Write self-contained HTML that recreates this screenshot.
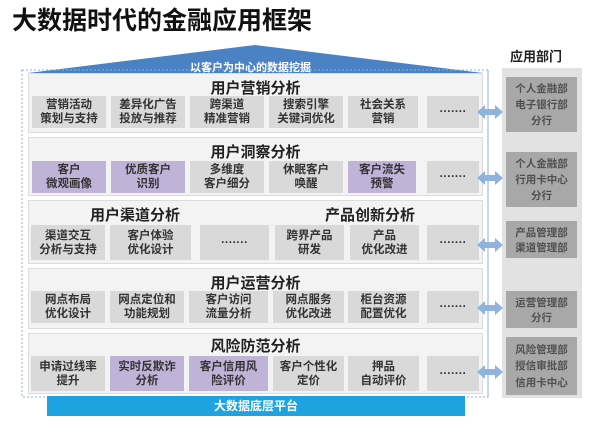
<!DOCTYPE html>
<html><head><meta charset="utf-8"><style>
*{margin:0;padding:0;box-sizing:border-box}
body{width:600px;height:424px;background:#fff;position:relative;overflow:hidden;font-family:"Liberation Sans","Noto Sans CJK SC",sans-serif;font-weight:bold}
.a{position:absolute}
.sec{position:absolute;left:28px;width:455px;background:#f3f3f3;border:1px solid #dcdcdc}
.t{position:absolute;font-size:15px;color:#222;text-align:center;white-space:nowrap}
.b{position:absolute;background:#d9d9d9;color:#333;font-size:11.5px;line-height:14px;text-align:center;display:flex;align-items:center;justify-content:center;flex-direction:column}
.p{background:#bfb3d8}
.d{position:absolute;left:506px;width:71px;background:#a8a8a8;color:#505050;font-size:10.5px;text-align:center;display:flex;flex-direction:column;justify-content:space-around;padding:4px 0}
</style></head><body>
<div class="a" style="left:12px;top:1px;font-size:25px;color:#111">大数据时代的金融应用框架</div>
<div class="a" style="left:510px;top:46px;font-size:13px;color:#222">应用部门</div>
<svg class="a" style="left:0;top:0" width="600" height="424">
<polygon points="28,73 255,45 483,73" fill="#4a82c4"/>
<rect x="22" y="70" width="466" height="327" fill="none" stroke="#8fb0d8" stroke-dasharray="2,2"/>
<rect x="502" y="68" width="80" height="330" fill="#e2e2e2"/>
</svg>
<div class="a" style="left:190px;top:59px;font-size:11px;color:#fff">以客户为中心的数据挖掘</div>

<div class="sec" style="top:73px;height:60px"></div>
<div class="t" style="left:28px;width:455px;top:77px">用户营销分析</div>
<div class="b" style="left:32px;top:96px;width:74px;height:32px">营销活动<br>策划与支持</div>
<div class="b" style="left:111px;top:96px;width:74px;height:32px">差异化广告<br>投放与推荐</div>
<div class="b" style="left:190px;top:96px;width:74px;height:32px">跨渠道<br>精准营销</div>
<div class="b" style="left:269px;top:96px;width:74px;height:32px">搜索引擎<br>关键词优化</div>
<div class="b" style="left:348px;top:96px;width:70px;height:32px">社会关系<br>营销</div>
<div class="b" style="left:427px;top:96px;width:52px;height:32px">·······</div>

<div class="sec" style="top:137px;height:59px"></div>
<div class="t" style="left:28px;width:455px;top:141px">用户洞察分析</div>
<div class="b p" style="left:32px;top:161px;width:74px;height:32px">客户<br>微观画像</div>
<div class="b p" style="left:111px;top:161px;width:74px;height:32px">优质客户<br>识别</div>
<div class="b" style="left:190px;top:161px;width:74px;height:32px">多维度<br>客户细分</div>
<div class="b" style="left:269px;top:161px;width:74px;height:32px">休眠客户<br>唤醒</div>
<div class="b p" style="left:348px;top:161px;width:68px;height:32px">客户流失<br>预警</div>
<div class="b" style="left:427px;top:161px;width:52px;height:32px">·······</div>

<div class="sec" style="top:200px;height:64px"></div>
<div class="t" style="left:60px;width:150px;top:204px">用户渠道分析</div>
<div class="t" style="left:295px;width:150px;top:204px">产品创新分析</div>
<div class="b" style="left:31px;top:225px;width:74px;height:35px">渠道交互<br>分析与支持</div>
<div class="b" style="left:110px;top:225px;width:81px;height:35px">客户体验<br>优化设计</div>
<div class="b" style="left:200px;top:225px;width:69px;height:35px">·······</div>
<div class="b" style="left:275px;top:225px;width:69px;height:35px">跨界产品<br>研发</div>
<div class="b" style="left:350px;top:225px;width:69px;height:35px">产品<br>优化改进</div>
<div class="b" style="left:427px;top:225px;width:52px;height:35px">·······</div>

<div class="sec" style="top:268px;height:61px"></div>
<div class="t" style="left:28px;width:455px;top:272px">用户运营分析</div>
<div class="b" style="left:31px;top:291px;width:74px;height:32px">网点布局<br>优化设计</div>
<div class="b" style="left:110px;top:291px;width:74px;height:32px">网点定位和<br>功能规划</div>
<div class="b" style="left:189px;top:291px;width:79px;height:32px">客户访问<br>流量分析</div>
<div class="b" style="left:273px;top:291px;width:71px;height:32px">网点服务<br>优化改进</div>
<div class="b" style="left:348px;top:291px;width:71px;height:32px">柜台资源<br>配置优化</div>
<div class="b" style="left:427px;top:291px;width:52px;height:32px">·······</div>

<div class="sec" style="top:333px;height:61px"></div>
<div class="t" style="left:28px;width:455px;top:335px">风险防范分析</div>
<div class="b" style="left:31px;top:356px;width:74px;height:35px">申请过线率<br>提升</div>
<div class="b p" style="left:110px;top:356px;width:74px;height:35px">实时反欺诈<br>分析</div>
<div class="b p" style="left:189px;top:356px;width:79px;height:35px">客户信用风<br>险评价</div>
<div class="b" style="left:273px;top:356px;width:71px;height:35px">客户个性化<br>定价</div>
<div class="b" style="left:348px;top:356px;width:71px;height:35px">押品<br>自动评价</div>
<div class="b" style="left:427px;top:356px;width:52px;height:35px">·······</div>

<div class="a" style="left:47px;top:396px;width:418px;height:20px;background:#1ca3e0;color:#fff;font-size:12px;line-height:20px;text-align:center">大数据底层平台</div>

<div class="d" style="top:77px;height:55px"><span>个人金融部</span><span>电子银行部</span><span>分行</span></div>
<div class="d" style="top:152px;height:55px"><span>个人金融部</span><span>行用卡中心</span><span>分行</span></div>
<div class="d" style="top:221px;height:37px"><span>产品管理部</span><span>渠道管理部</span></div>
<div class="d" style="top:291px;height:37px"><span>运营管理部</span><span>分行</span></div>
<div class="d" style="top:337px;height:58px"><span>风险管理部</span><span>授信审批部</span><span>信用卡中心</span></div>

<svg class="a" style="left:0;top:0" width="600" height="424">
<line x1="488" y1="70" x2="488" y2="397" stroke="#8fb0d8" stroke-dasharray="2,2"/>
<g fill="#8fb3dc">
<polygon points="477,112 485,105 485,109 495,109 495,105 503,112 495,119 495,115 485,115 485,119"/>
<polygon points="477,178 485,171 485,175 495,175 495,171 503,178 495,185 495,181 485,181 485,185"/>
<polygon points="477,245 485,238 485,242 495,242 495,238 503,245 495,252 495,248 485,248 485,252"/>
<polygon points="477,308 485,301 485,305 495,305 495,301 503,308 495,315 495,311 485,311 485,315"/>
<polygon points="477,372 485,365 485,369 495,369 495,365 503,372 495,379 495,375 485,375 485,379"/>
</g>
</svg>
</body></html>
